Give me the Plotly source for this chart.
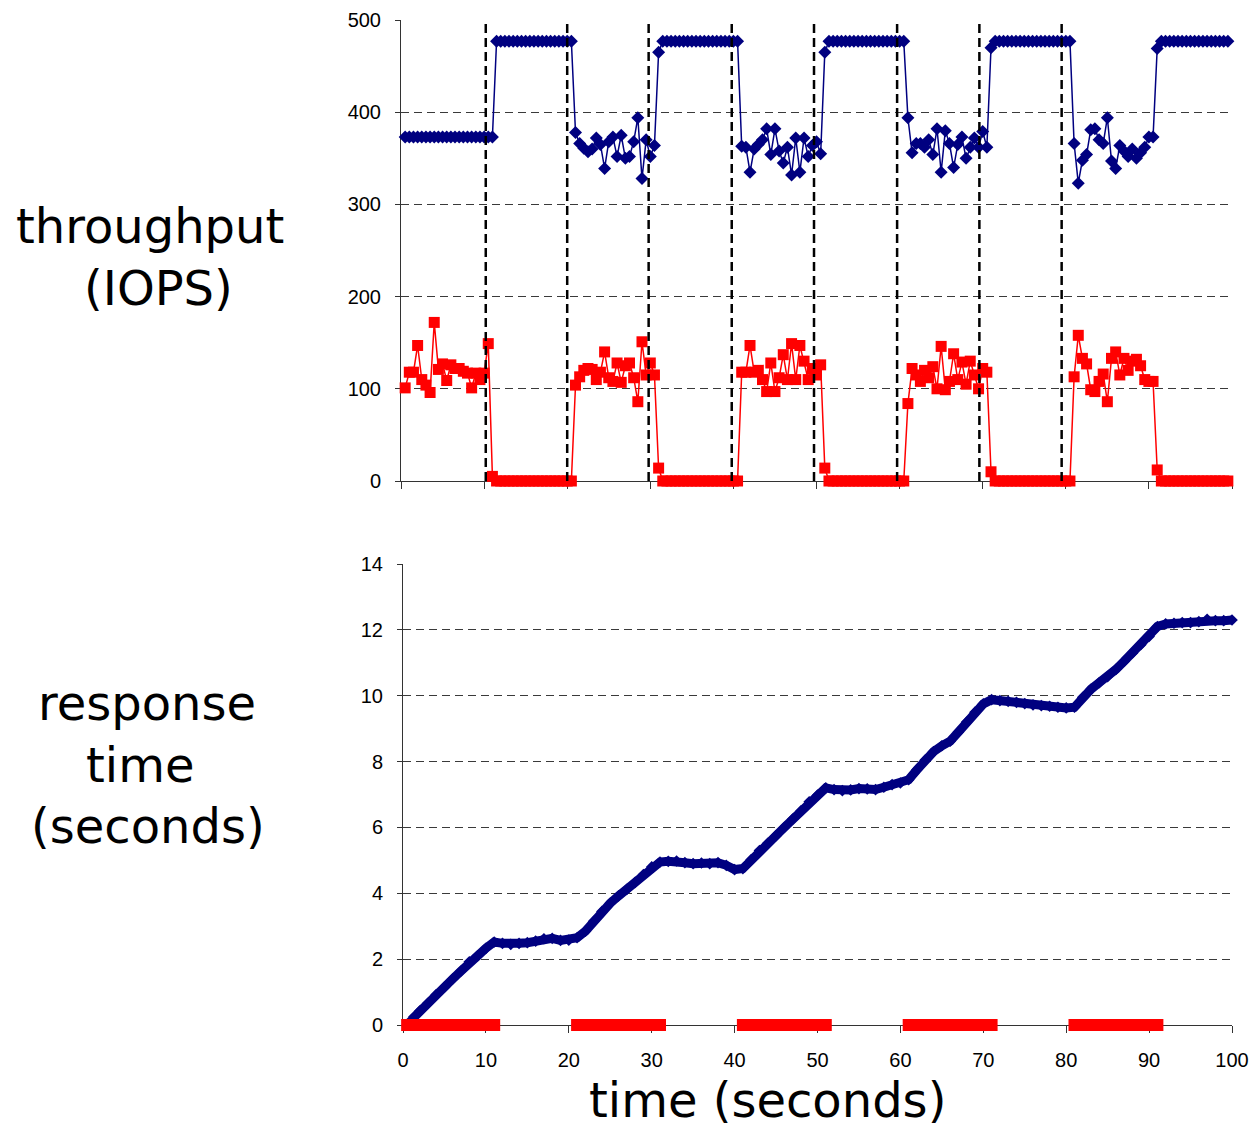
import plotly.graph_objects as go

W, H = 1251, 1128

# ---- throughput panel: samples every 0.5 s ----
sample_t = [0.5 * k for k in range(1, 200)]

# foreground workload throughput (IOPS)
fg_iops = [
    # 0.5 .. 11.0
    373, 373, 373, 373, 373, 373, 373, 373, 373, 373, 373,
    373, 373, 373, 373, 373, 373, 373, 373, 373, 373, 373,
    # 11.5 .. 20.5
    477, 477, 477, 477, 477, 477, 477, 477, 477, 477,
    477, 477, 477, 477, 477, 477, 477, 477, 477,
    # 21.0 .. 30.5
    378, 366, 361, 357, 360, 372, 365, 339, 368, 373,
    352, 375, 350, 352, 368, 394, 328, 370, 352, 364,
    # 31.0 .. 40.5
    465,
    477, 477, 477, 477, 477, 477, 477, 477, 477, 477,
    477, 477, 477, 477, 477, 477, 477, 477, 477,
    # 41.0 .. 50.5
    363, 362, 335, 360, 365, 370, 382, 354, 382, 358,
    345, 362, 332, 372, 335, 372, 352, 364, 368, 355,
    # 51.0 .. 60.5
    465,
    477, 477, 477, 477, 477, 477, 477, 477, 477, 477,
    477, 477, 477, 477, 477, 477, 477, 477, 477,
    # 61.0 .. 70.5
    394, 356, 366, 366, 362, 370, 354, 382, 335, 380,
    366, 340, 365, 373, 350, 362, 372, 362, 379, 362,
    # 71.0 .. 80.5
    470,
    477, 477, 477, 477, 477, 477, 477, 477, 477, 477,
    477, 477, 477, 477, 477, 477, 477, 477, 477,
    # 81.0 .. 90.5
    366, 323, 348, 354, 381, 382, 370, 366, 394, 347,
    339, 364, 358, 352, 360, 350, 356, 362, 373, 373,
    # 91.0 .. 99.5
    469,
    477, 477, 477, 477, 477, 477, 477, 477, 477, 477,
    477, 477, 477, 477, 477, 477, 477,
]

# background workload throughput (IOPS)
bg_iops = [
    # 0.5 .. 11.0
    101, 118, 118, 147, 110, 104, 96, 172, 121, 127, 109,
    126, 122, 122, 119, 117, 101, 117, 110, 117, 149, 5,
    # 11.5 .. 20.5
    0, 0, 0, 0, 0, 0, 0, 0, 0, 0, 0, 0, 0, 0, 0, 0, 0, 0, 0,
    # 21.0 .. 30.5
    104, 113, 120, 122, 121, 110, 118, 140, 112, 108,
    128, 107, 125, 128, 112, 86, 151, 115, 128, 115,
    # 31.0 .. 40.5
    14,
    0, 0, 0, 0, 0, 0, 0, 0, 0, 0, 0, 0, 0, 0, 0, 0, 0, 0, 0,
    # 41.0 .. 50.5
    118, 118, 147, 118, 120, 110, 97, 128, 97, 112,
    137, 110, 149, 110, 147, 130, 110, 122, 115, 126,
    # 51.0 .. 60.5
    14,
    0, 0, 0, 0, 0, 0, 0, 0, 0, 0, 0, 0, 0, 0, 0, 0, 0, 0, 0,
    # 61.0 .. 70.5
    84, 122, 115, 108, 120, 112, 124, 100, 146, 99,
    108, 138, 110, 129, 105, 130, 115, 100, 122, 118,
    # 71.0 .. 80.5
    10,
    0, 0, 0, 0, 0, 0, 0, 0, 0, 0, 0, 0, 0, 0, 0, 0, 0, 0, 0,
    # 81.0 .. 90.5
    113, 158, 133, 127, 99, 97, 108, 116, 86, 133,
    140, 115, 133, 120, 130, 132, 125, 110, 108, 108,
    # 91.0 .. 99.5
    12,
    0, 0, 0, 0, 0, 0, 0, 0, 0, 0, 0, 0, 0, 0, 0, 0, 0,
]

# moments where the schedule switches between the two workloads
phase_switch_t = [10.2, 20.0, 29.8, 39.8, 49.7, 59.7, 69.6, 79.5]

# ---- response time panel: one reading per second ----
resp_t = list(range(1, 101))
resp_s = [
    0.15, 0.42, 0.66, 0.92, 1.15, 1.40, 1.64, 1.92, 2.10, 2.33,
    2.52, 2.48, 2.45, 2.48, 2.50, 2.55, 2.62, 2.63, 2.57, 2.58,
    2.65, 2.85, 3.15, 3.45, 3.70, 3.92, 4.12, 4.33, 4.57, 4.80,
    4.95, 4.97, 4.98, 4.93, 4.90, 4.92, 4.90, 4.93, 4.85, 4.72,
    4.75, 5.02, 5.30, 5.52, 5.75, 6.00, 6.25, 6.50, 6.78, 6.98,
    7.20, 7.15, 7.12, 7.14, 7.18, 7.17, 7.15, 7.22, 7.30, 7.35,
    7.45, 7.75, 8.05, 8.30, 8.48, 8.62, 8.90, 9.20, 9.50, 9.75,
    9.88, 9.85, 9.83, 9.80, 9.76, 9.72, 9.70, 9.68, 9.65, 9.63,
    9.65, 9.95, 10.20, 10.40, 10.58, 10.80, 11.05, 11.30, 11.55, 11.80,
    12.10, 12.18, 12.20, 12.22, 12.22, 12.25, 12.32, 12.28, 12.28, 12.30,
]

# background activity marker: the samples where the background job runs
bg_active_t = [t for t, v in zip(sample_t, bg_iops) if v > 0]
bg_active_y = [0 for _ in bg_active_t]

NAVY = "#000080"
RED = "#FF0000"
AXIS = "#333333"
GRID = "#3a3a3a"

fig = go.Figure()

fig.add_trace(go.Scatter(
    x=sample_t, y=fg_iops, mode="lines+markers", xaxis="x", yaxis="y",
    line=dict(color=NAVY, width=1.5),
    marker=dict(symbol="diamond", size=10, color=NAVY),
    cliponaxis=False, showlegend=False,
))
fig.add_trace(go.Scatter(
    x=sample_t, y=bg_iops, mode="lines+markers", xaxis="x", yaxis="y",
    line=dict(color=RED, width=1.5),
    marker=dict(symbol="square", size=11, color=RED),
    cliponaxis=False, showlegend=False,
))

fig.add_trace(go.Scatter(
    x=resp_t, y=resp_s, mode="lines+markers", xaxis="x2", yaxis="y2",
    line=dict(color=NAVY, width=9),
    marker=dict(symbol="diamond", size=9, color=NAVY),
    cliponaxis=False, showlegend=False,
))
fig.add_trace(go.Scatter(
    x=bg_active_t, y=bg_active_y, mode="markers", xaxis="x2", yaxis="y2",
    marker=dict(symbol="square", size=12, color=RED),
    cliponaxis=False, showlegend=False,
))

for t in phase_switch_t:
    fig.add_shape(type="line", xref="x", yref="y", x0=t, x1=t, y0=0, y1=500,
                  line=dict(color="black", width=2.5, dash="9px,5px"),
                  layer="above")

tick_font = dict(family="Liberation Sans, Arial, sans-serif", size=20, color="black")

x_common = dict(
    range=[0, 100], tickmode="array", tickvals=list(range(0, 101, 10)),
    ticks="outside", ticklen=7, tickcolor=AXIS, tickwidth=1,
    showline=True, linecolor=AXIS, linewidth=1, automargin=False,
    showgrid=False, zeroline=False, layer="below traces", tickfont=tick_font,
)
y_common = dict(
    ticks="outside", ticklen=5, tickcolor=AXIS, tickwidth=1,
    showline=True, linecolor=AXIS, linewidth=1, automargin=False,
    showgrid=True, gridcolor=GRID, gridwidth=1, griddash="8px,5px",
    zeroline=False, layer="below traces", tickfont=tick_font,
    ticklabelstandoff=10,
)

fig.update_layout(
    width=W, height=H,
    margin=dict(l=0, r=0, t=0, b=0, autoexpand=False),
    paper_bgcolor="white", plot_bgcolor="white",
    xaxis=dict(domain=[401 / W, 1232 / W], anchor="y",
               showticklabels=False, **x_common),
    yaxis=dict(domain=[1 - 481 / H, 1 - 20 / H], anchor="x",
               range=[0, 500], tickvals=[0, 100, 200, 300, 400, 500],
               **y_common),
    xaxis2=dict(domain=[403 / W, 1232 / W], anchor="y2",
                ticklabelstandoff=10, **x_common),
    yaxis2=dict(domain=[1 - 1025 / H, 1 - 564 / H], anchor="x2",
                range=[0, 14], tickvals=list(range(0, 15, 2)),
                **y_common),
)

label_font = dict(family="DejaVu Sans", size=48, color="black")
side_labels = [
    ("throughput", 150, 226),
    ("(IOPS)", 158, 288),
    ("response", 147, 703),
    ("time", 140, 765),
    ("(seconds)", 148, 826),
    ("time (seconds)", 767, 1100),
]
for text, px, py in side_labels:
    fig.add_annotation(text=text, xref="paper", yref="paper",
                       x=px / W, y=1 - py / H, xanchor="center", yanchor="middle",
                       showarrow=False, font=label_font)

fig.write_html("out.html")
